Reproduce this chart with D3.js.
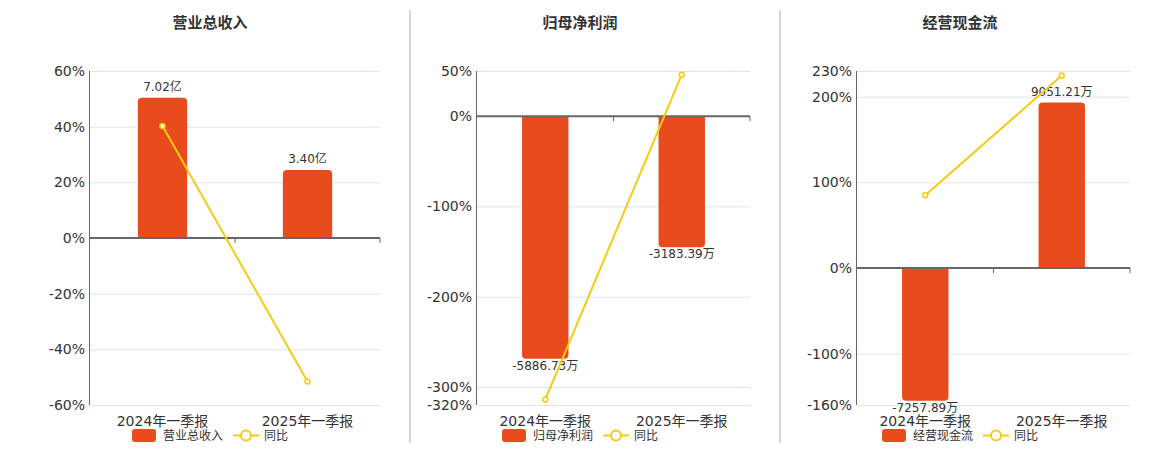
<!DOCTYPE html>
<html><head><meta charset="utf-8">
<script src="https://cdn.jsdelivr.net/npm/d3@7/dist/d3.min.js"></script>
<style>
body{margin:0;background:#fff;}
text{font-family:"DejaVu Sans","Noto Sans CJK SC",sans-serif;}
</style></head>
<body><svg id="c" width="1160" height="450"></svg>
<script>
const categories = ["2024年一季报", "2025年一季报"];
const titles = ["营业总收入", "归母净利润", "经营现金流"];
const barNames = ["营业总收入", "归母净利润", "经营现金流"];
const lineName = "同比";
const units = ["亿", "万", "万"];
const revenueValues = [7.02, 3.40];
const revenueYoY = [40.2, -51.57];
const profitValues = [-5886.73, -3183.39];
const profitYoY = [-314, 45.9];
const cashValues = [-7257.89, 9051.21];
const cashYoY = [84.9, 224.7];
const revenueTicks = [60, 40, 20, 0, -20, -40, -60];
const profitTicks = [50, 0, -100, -200, -300, -320];
const cashTicks = [230, 200, 100, 0, -100, -160];

const series = [
  {bars: revenueValues, yoy: revenueYoY, ticks: revenueTicks},
  {bars: profitValues, yoy: profitYoY, ticks: profitTicks},
  {bars: cashValues, yoy: cashYoY, ticks: cashTicks}
];
const layout = [
  {left: 90, right: 380, titleX: 210},
  {left: 477, right: 750, titleX: 580},
  {left: 857, right: 1130, titleX: 960}
];
const TOP = 71, BOTTOM = 405;
const BAR = "#E84C1D", LINE = "#F5CB12", TXT = "#333", GRID = "#dfe3ee", AXIS = "#666";

const svg = d3.select("#c");
// separators
[410, 780].forEach(x => svg.append("line").attr("x1", x).attr("x2", x).attr("y1", 10).attr("y2", 443)
  .attr("stroke", "#aaa").attr("stroke-width", 1));

series.forEach((s, i) => {
  const L = layout[i];
  const g = svg.append("g");
  const x = d3.scaleBand().domain(categories).range([L.left, L.right]);
  const y = d3.scaleLinear().domain(d3.extent(s.ticks)).range([BOTTOM, TOP]);
  const y0 = y(0);
  const maxAbs = d3.max(s.bars, v => Math.abs(v));
  const maxV = s.bars.find(v => Math.abs(v) === maxAbs);
  const sideExtent = maxV > 0 ? (y0 - TOP) : (BOTTOM - y0);
  const yb = d3.scaleLinear().domain([0, maxAbs]).range([0, 0.84 * sideExtent]);

  // title
  g.append("text").attr("x", L.titleX).attr("y", 28).attr("text-anchor", "middle")
    .attr("font-size", 15).attr("font-weight", "bold").attr("fill", TXT).text(titles[i]);

  // grid
  g.selectAll(".grid").data(s.ticks.filter(t => t !== 0)).enter().append("line")
    .attr("x1", L.left).attr("x2", L.right).attr("y1", d => y(d) + 0.5).attr("y2", d => y(d) + 0.5)
    .attr("stroke", GRID).attr("stroke-width", 1);

  // y tick labels
  g.selectAll(".yl").data(s.ticks).enter().append("text")
    .attr("x", L.left - 5).attr("y", d => y(d)).attr("dy", "0.36em").attr("text-anchor", "end")
    .attr("font-size", 14).attr("fill", TXT).text(d => d + "%");

  // left axis
  g.append("line").attr("x1", L.left - 0.5).attr("x2", L.left - 0.5).attr("y1", TOP).attr("y2", BOTTOM)
    .attr("stroke", AXIS).attr("stroke-width", 1);

  // bars
  const bw = x.bandwidth() * 0.34;
  const r = 4;
  s.bars.forEach((v, j) => {
    const cx = x(categories[j]) + x.bandwidth() / 2;
    const h = yb(Math.abs(v));
    const x0 = cx - bw / 2, x1 = cx + bw / 2;
    let p;
    if (v >= 0) {
      const yt = y0 - h;
      p = `M${x0},${y0}V${yt + r}Q${x0},${yt} ${x0 + r},${yt}H${x1 - r}Q${x1},${yt} ${x1},${yt + r}V${y0}Z`;
    } else {
      const yt = y0 + h;
      p = `M${x0},${y0}V${yt - r}Q${x0},${yt} ${x0 + r},${yt}H${x1 - r}Q${x1},${yt} ${x1},${yt - r}V${y0}Z`;
    }
    g.append("path").attr("d", p).attr("fill", BAR);
    const label = v.toFixed(2) + units[i];
    g.append("text").attr("x", cx).attr("y", v >= 0 ? y0 - h - 7 : y0 + h + 11)
      .attr("text-anchor", "middle").attr("font-size", 12).attr("fill", TXT).text(label);
  });

  // zero line
  g.append("line").attr("x1", L.left).attr("x2", L.right).attr("y1", y0).attr("y2", y0)
    .attr("stroke", AXIS).attr("stroke-width", 2);
  categories.forEach((c, j) => {
    const tx = x(c) + x.bandwidth();
    g.append("line").attr("x1", tx).attr("x2", tx).attr("y1", y0).attr("y2", y0 + 5)
      .attr("stroke", AXIS).attr("stroke-width", 1);
  });

  // line
  const pts = s.yoy.map((v, j) => [x(categories[j]) + x.bandwidth() / 2, y(v)]);
  g.append("path").attr("d", d3.line()(pts)).attr("fill", "none").attr("stroke", LINE).attr("stroke-width", 2);
  g.selectAll(".pt").data(pts).enter().append("circle")
    .attr("cx", d => d[0]).attr("cy", d => d[1]).attr("r", 2.5)
    .attr("fill", "#fff").attr("stroke", LINE).attr("stroke-width", 1.5);

  // x labels
  categories.forEach(c => {
    g.append("text").attr("x", x(c) + x.bandwidth() / 2).attr("y", 426).attr("text-anchor", "middle")
      .attr("font-size", 14).attr("fill", TXT).text(c);
  });

  // legend
  const lx = L.titleX;
  g.append("rect").attr("x", lx - 78).attr("y", 429).attr("width", 24).attr("height", 13).attr("rx", 3)
    .attr("fill", BAR);
  g.append("text").attr("x", lx - 47).attr("y", 440).attr("font-size", 12).attr("fill", TXT).text(barNames[i]);
  g.append("line").attr("x1", lx + 23).attr("x2", lx + 49).attr("y1", 435.5).attr("y2", 435.5)
    .attr("stroke", LINE).attr("stroke-width", 2);
  g.append("circle").attr("cx", lx + 36).attr("cy", 435.5).attr("r", 5).attr("fill", "#fff")
    .attr("stroke", LINE).attr("stroke-width", 2);
  g.append("text").attr("x", lx + 54).attr("y", 440).attr("font-size", 12).attr("fill", TXT).text(lineName);
});
</script></body></html>
